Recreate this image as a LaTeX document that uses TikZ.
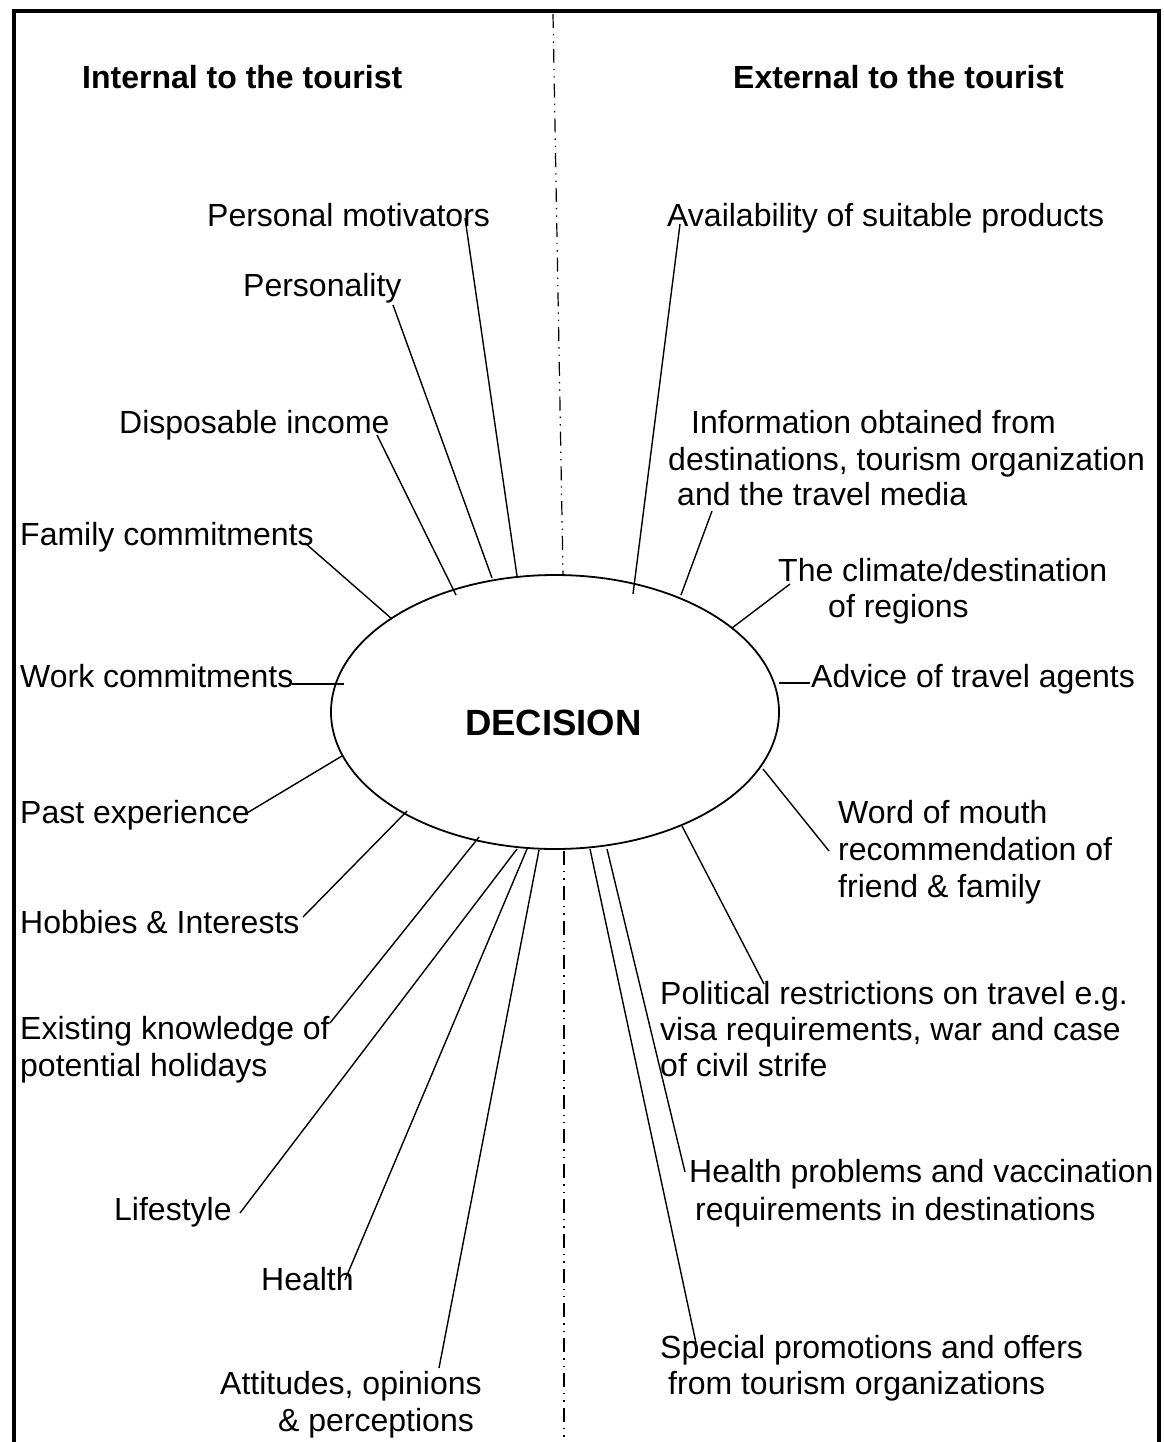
\documentclass[tikz,border=0pt]{standalone}
\usepackage{fontspec}
\setmainfont{Liberation Sans}
\usetikzlibrary{shapes.geometric}
\begin{document}
\begin{tikzpicture}[x=1pt,y=-1pt,
  lbl/.style={anchor=base west, inner sep=0pt, font=\fontsize{32}{37}\selectfont},
  hdr/.style={anchor=base west, inner sep=0pt, font=\fontsize{32}{37}\selectfont\bfseries},
  conn/.style={line width=1.4pt},
  divider/.style={line width=1.2pt, dash pattern=on 14pt off 6pt on 1.4pt off 6pt on 1.4pt off 6pt},
  frame/.style={line width=4.5pt, line join=miter}]
\useasboundingbox (0,0) rectangle (1163,1442);
\fill[white] (0,0) rectangle (1163,1442);

% frame
\coordinate (f1) at (14,1442);
\coordinate (f2) at (14,11);
\coordinate (f3) at (1159,11);
\coordinate (f4) at (1159,1442);
\draw[frame] (f1) -- (f2) -- (f3) -- (f4);

% divider
\coordinate (dvtop) at (553,14);
\coordinate (dva) at (563,574);
\coordinate (dvb) at (564,851);
\coordinate (dvbot) at (564,1442);
\draw[divider] (dvtop) -- (dva);
\draw[divider] (dvb) -- (dvbot);

% ellipse
\node[draw, ellipse, minimum width=448pt, minimum height=274pt, inner sep=0pt, line width=1.8pt] (dec) at (555,712) {};
\node[anchor=base, inner sep=0pt, font=\fontsize{36.5}{40}\selectfont\bfseries] (dectxt) at (553.5,735) {DECISION};

% headings
\node[hdr] (hint) at (82,89) {Internal to the tourist};
\node[hdr] (hext) at (733,89) {External to the tourist};

% left labels
\node[lbl] (pm) at (207,226) {Personal motivators};
\node[lbl] (py) at (243,296) {Personality};
\node[lbl] (di) at (119,433) {Disposable income};
\node[lbl] (fc) at (20,545) {Family commitments};
\node[lbl] (wc) at (20,687) {Work commitments};
\node[lbl] (pe) at (20,823) {Past experience};
\node[lbl] (hi) at (20,933) {Hobbies \& Interests};
\node[lbl] (ek1) at (20,1039) {Existing knowledge of};
\node[lbl] (ek2) at (20,1076) {potential holidays};
\node[lbl] (ls) at (114,1220) {Lifestyle};
\node[lbl] (he) at (261,1290) {Health};
\node[lbl] (at1) at (220,1394) {Attitudes, opinions};
\node[lbl] (at2) at (278,1431) {\& perceptions};

% right labels
\node[lbl] (av) at (667,226) {Availability of suitable products};
\node[lbl] (in1) at (691,433) {Information obtained from};
\node[lbl] (in2) at (668,470) {destinations, tourism organization};
\node[lbl] (in3) at (677,505) {and the travel media};
\node[lbl] (cl1) at (778,581) {The climate/destination};
\node[lbl] (cl2) at (828,617) {of regions};
\node[lbl] (ad) at (811,687) {Advice of travel agents};
\node[lbl] (wm1) at (838,823) {Word of mouth};
\node[lbl] (wm2) at (838,860) {recommendation of};
\node[lbl] (wm3) at (838,897) {friend \& family};
\node[lbl] (po1) at (660,1004) {Political restrictions on travel e.g.};
\node[lbl] (po2) at (660,1040) {visa requirements, war and case};
\node[lbl] (po3) at (660,1076) {of civil strife};
\node[lbl] (hp1) at (689,1182) {Health problems and vaccination};
\node[lbl] (hp2) at (695,1220) {requirements in destinations};
\node[lbl] (sp1) at (660,1358) {Special promotions and offers};
\node[lbl] (sp2) at (668,1394) {from tourism organizations};

% connector end points
\coordinate (pmA) at (465,218);  \coordinate (pmB) at (517,576);
\coordinate (pyA) at (393,305);  \coordinate (pyB) at (492,578);
\coordinate (diA) at (377,435);  \coordinate (diB) at (456,595);
\coordinate (fcA) at (305,543);  \coordinate (fcB) at (392,619);
\coordinate (wcA) at (292,684);  \coordinate (wcB) at (344,684);
\coordinate (peA) at (247,813);  \coordinate (peB) at (342,756);
\coordinate (hiA) at (303,917);  \coordinate (hiB) at (407,811);
\coordinate (ekA) at (330,1023); \coordinate (ekB) at (479,837);
\coordinate (lsA) at (240,1213); \coordinate (lsB) at (517,849);
\coordinate (heA) at (345,1280); \coordinate (heB) at (527,849);
\coordinate (atA) at (439,1368); \coordinate (atB) at (539,850);

\coordinate (avA) at (680,224);  \coordinate (avB) at (633,594);
\coordinate (inA) at (712,511);  \coordinate (inB) at (681,595);
\coordinate (clA) at (790,584);  \coordinate (clB) at (732,628);
\coordinate (adA) at (810,683);  \coordinate (adB) at (779,683);
\coordinate (wmA) at (829,851);  \coordinate (wmB) at (763,769);
\coordinate (poA) at (764,984);  \coordinate (poB) at (682,826);
\coordinate (hpA) at (685,1172); \coordinate (hpB) at (607,849);
\coordinate (spA) at (696,1343); \coordinate (spB) at (590,849);

\foreach \n in {pm,py,di,fc,wc,pe,hi,ek,ls,he,at,av,in,cl,ad,wm,po,hp,sp}
  \draw[conn] (\n A) -- (\n B);
\end{tikzpicture}
\end{document}
